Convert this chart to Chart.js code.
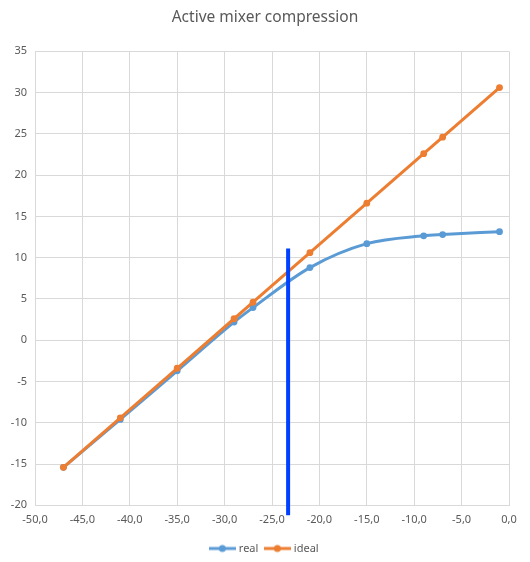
<!DOCTYPE html>
<html>
<head>
<meta charset="utf-8">
<script src="https://cdn.jsdelivr.net/npm/chart.js@4"></script>
<style>
html,body{margin:0;padding:0;background:#fff;}
canvas{display:block;}
</style>
</head>
<body>
<canvas id="c" width="530" height="562"></canvas>
<script>
const seriesNames = ['real', 'ideal'];
const xValues = [-47, -41, -35, -29, -27, -21, -15, -9, -7, -1];
const realValues = [-15.4, -9.6, -3.7, 2.2, 3.95, 8.8, 11.7, 12.65, 12.8, 13.15];
const idealValues = [-15.4, -9.4, -3.4, 2.6, 4.6, 10.6, 16.6, 22.6, 24.6, 30.6];
const markerX = [-23.3, -23.3];
const markerY = [-21.2, 11.1];
const xTickValues = [-50, -45, -40, -35, -30, -25, -20, -15, -10, -5, 0];
const yTickValues = [-20, -15, -10, -5, 0, 5, 10, 15, 20, 25, 30, 35];
const titleText = 'Active mixer compression';

const FONT = '"Noto Sans", "Open Sans", sans-serif';
const TEXT = '#595959';
const GRID = '#D9D9D9';
const BLUE = '#5B9BD5';
const ORANGE = '#ED7D31';

function toPoints(xs, ys) { return xs.map((x, i) => ({x: x, y: ys[i]})); }

function legendIcon(color) {
  const c = document.createElement('canvas');
  c.width = 27; c.height = 10;
  const g = c.getContext('2d');
  g.strokeStyle = color; g.lineWidth = 3;
  g.beginPath(); g.moveTo(0, 5); g.lineTo(27, 5); g.stroke();
  g.fillStyle = color;
  g.beginPath(); g.arc(13.5, 5, 3.5, 0, Math.PI * 2); g.fill();
  return c;
}
const icons = [legendIcon(BLUE), legendIcon(ORANGE)];

new Chart(document.getElementById('c'), {
  type: 'scatter',
  data: {
    datasets: [
      {
        label: seriesNames[0],
        data: toPoints(xValues, realValues),
        showLine: true,
        borderColor: BLUE,
        backgroundColor: BLUE,
        borderWidth: 3,
        pointRadius: 3.4,
        pointBorderWidth: 0,
        pointHoverRadius: 3.4,
        tension: 0.4,
        cubicInterpolationMode: 'monotone',
        order: 2
      },
      {
        label: seriesNames[1],
        data: toPoints(xValues, idealValues),
        showLine: true,
        borderColor: ORANGE,
        backgroundColor: ORANGE,
        borderWidth: 3,
        pointRadius: 3.4,
        pointBorderWidth: 0,
        pointHoverRadius: 3.4,
        tension: 0,
        order: 1
      },
      {
        label: 'marker',
        data: toPoints(markerX, markerY),
        showLine: true,
        borderColor: '#0041FF',
        backgroundColor: '#0041FF',
        borderWidth: 4,
        pointRadius: 0,
        tension: 0,
        clip: false,
        order: 0
      }
    ]
  },
  options: {
    responsive: false,
    animation: false,
    layout: {padding: {left: 0, right: 0, top: 0, bottom: -2}},
    plugins: {
      title: {
        display: true,
        text: titleText,
        color: TEXT,
        font: {family: FONT, size: 15.5, weight: 'normal'},
        padding: {top: 8, bottom: 24.7}
      },
      legend: {
        position: 'bottom',
        labels: {
          color: TEXT,
          font: {family: FONT, size: 11},
          usePointStyle: true,
          pointStyleWidth: 22,
          padding: 8,
          generateLabels: function(chart) {
            const items = Chart.defaults.plugins.legend.labels.generateLabels(chart);
            return items
              .filter(it => it.datasetIndex < 2)
              .sort((a, b) => a.datasetIndex - b.datasetIndex)
              .map(it => {
                it.pointStyle = icons[it.datasetIndex];
                return it;
              });
          }
        }
      },
      tooltip: {enabled: false}
    },
    scales: {
      x: {
        type: 'linear',
        min: -50, max: 0,
        afterBuildTicks: s => { s.ticks = xTickValues.map(v => ({value: v})); },
        afterFit: s => { s.height = 29.7; },
        grid: {color: GRID, drawTicks: false},
        border: {color: GRID},
        ticks: {
          color: TEXT,
          font: {family: FONT, size: 11},
          padding: 8,
          maxRotation: 0,
          callback: v => v.toFixed(1).replace('.', ',')
        }
      },
      y: {
        type: 'linear',
        min: -20, max: 35,
        afterBuildTicks: s => { s.ticks = yTickValues.map(v => ({value: v})); },
        afterFit: s => { s.width = 35; },
        grid: {color: GRID, drawTicks: false},
        border: {color: GRID},
        ticks: {
          color: TEXT,
          font: {family: FONT, size: 11},
          padding: 8,
          callback: v => String(v)
        }
      },
      spacer: {
        type: 'linear',
        position: 'right',
        min: 0, max: 1,
        afterFit: s => { s.width = 21; },
        grid: {display: false, drawTicks: false},
        border: {display: false},
        ticks: {display: false}
      }
    }
  }
});
</script>
</body>
</html>
